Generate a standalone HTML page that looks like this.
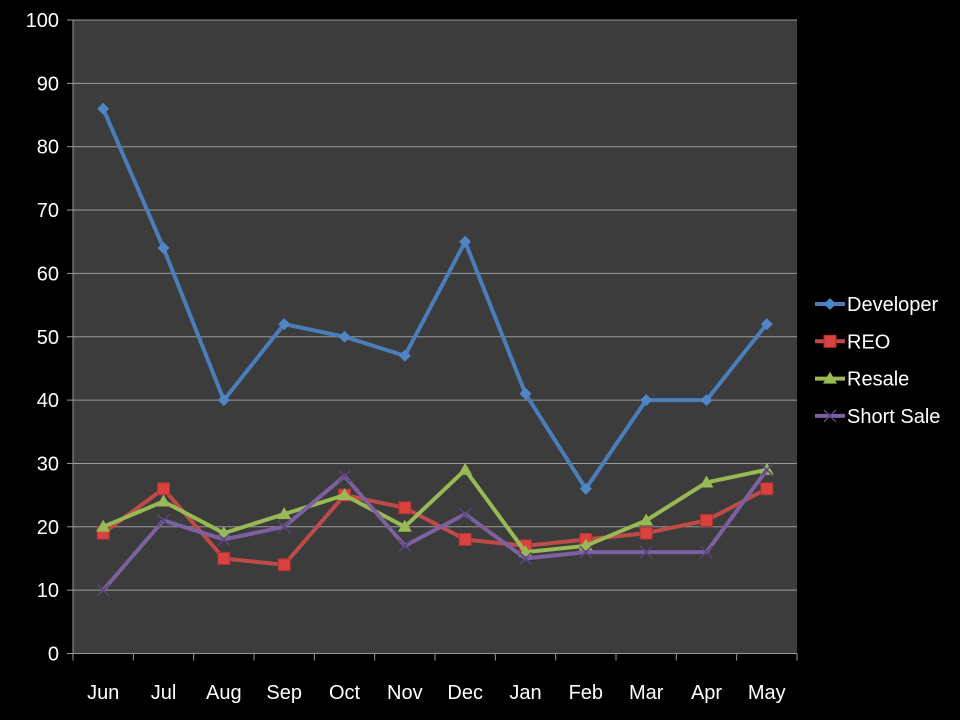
<!DOCTYPE html>
<html><head><meta charset="utf-8"><style>
html,body{margin:0;padding:0;background:#000;}
svg{display:block;font-family:"Liberation Sans",sans-serif;}
text{fill:#fff;font-size:20px;}
</style></head><body>
<svg id="c" width="960" height="720">
<rect x="73" y="20" width="724" height="634" fill="#3c3c3c"/>
<g id="grid"></g><g id="axes"></g>
<g text-anchor="end">
<text x="59" y="660.5">0</text>
<text x="59" y="597.2">10</text>
<text x="59" y="533.8">20</text>
<text x="59" y="470.5">30</text>
<text x="59" y="407.1">40</text>
<text x="59" y="343.8">50</text>
<text x="59" y="280.4">60</text>
<text x="59" y="217.1">70</text>
<text x="59" y="153.7">80</text>
<text x="59" y="90.4">90</text>
<text x="59" y="27">100</text>
</g>
<g text-anchor="middle">
<text x="103.2" y="699">Jun</text>
<text x="163.5" y="699">Jul</text>
<text x="223.8" y="699">Aug</text>
<text x="284.2" y="699">Sep</text>
<text x="344.5" y="699">Oct</text>
<text x="404.8" y="699">Nov</text>
<text x="465.2" y="699">Dec</text>
<text x="525.5" y="699">Jan</text>
<text x="585.8" y="699">Feb</text>
<text x="646.2" y="699">Mar</text>
<text x="706.5" y="699">Apr</text>
<text x="766.8" y="699">May</text>
</g>
<g>
<text x="847" y="311">Developer</text>
<text x="847" y="348.3">REO</text>
<text x="847" y="385.6">Resale</text>
<text x="847" y="422.9">Short Sale</text>
</g>
<g id="series"></g><g id="legend"></g>
</svg>
<script>
const categories=["Jun","Jul","Aug","Sep","Oct","Nov","Dec","Jan","Feb","Mar","Apr","May"];
const developer=[86,64,40,52,50,47,65,41,26,40,40,52];
const reo=[19,26,15,14,25,23,18,17,18,19,21,26];
const resale=[20,24,19,22,25,20,29,16,17,21,27,29];
const shortSale=[10,21,18,20,28,17,22,15,16,16,16,29];
const yTicks=[0,10,20,30,40,50,60,70,80,90,100];
const seriesNames=["Developer","REO","Resale","Short Sale"];

const NS="http://www.w3.org/2000/svg";
const L=73,R=797,T=20,B=653.5;
const bw=(R-L)/categories.length;
const x=i=>L+bw*(i+0.5);
const y=v=>B-(v/100)*(B-T);
function mk(tag,attrs,parent){const e=document.createElementNS(NS,tag);for(const k in attrs)e.setAttribute(k,attrs[k]);parent.appendChild(e);return e;}
const grid=document.getElementById('grid'),axes=document.getElementById('axes'),ser=document.getElementById('series'),leg=document.getElementById('legend');
yTicks.forEach(t=>{
  if(t>0){const g=mk('line',{x1:L,x2:R,y1:y(t),y2:y(t),stroke:'#9a9a9a','stroke-width':1},grid);
  
  }
  const tk=mk('line',{x1:L-6,x2:L,y1:y(t),y2:y(t),stroke:'#999'},axes);
  
  
});
const ya=mk('line',{x1:L,x2:L,y1:T,y2:B,stroke:'#999'},axes);


const xa=mk('line',{x1:L,x2:R,y1:B,y2:B,stroke:'#999'},axes);


for(let i=0;i<=categories.length;i++){
  const tk=mk('line',{x1:L+bw*i,x2:L+bw*i,y1:B,y2:B+7,stroke:'#999'},axes);
  
  
}
const colors=["#4a7ebb","#be4b48","#98b954","#7d60a0"];
const datas=[developer,reo,resale,shortSale];
function marker(k,cx,cy,g){
  let m;
  if(k===0)m=mk('polygon',{points:`${cx},${cy-6} ${cx+6},${cy} ${cx},${cy+6} ${cx-6},${cy}`,fill:'#4f86c6'},g);
  else if(k===1)m=mk('rect',{x:cx-6,y:cy-6,width:12,height:12,fill:'#d9423e',stroke:'#a33','stroke-width':1},g);
  else if(k===2)m=mk('polygon',{points:`${cx},${cy-7} ${cx+7},${cy+5} ${cx-7},${cy+5}`,fill:'#98b954'},g);
  else {m=mk('path',{d:`M${cx-6} ${cy-6}L${cx+6} ${cy+6}M${cx+6} ${cy-6}L${cx-6} ${cy+6}`,stroke:'#5a4580','stroke-width':1.5},g);}
  return m;
}
datas.forEach((d,k)=>{
  const g=mk('g',{},ser);
  
  
  const pl=mk('polyline',{points:d.map((v,i)=>x(i)+','+y(v)).join(' '),fill:'none',stroke:colors[k],'stroke-width':4,'stroke-linejoin':'round'},g);
  
  
  d.forEach((v,i)=>{const m=marker(k,x(i),y(v),g);
    
    });
  const lg=mk('g',{},leg);
  
  
  const ly=304+k*37.3;
  mk('line',{x1:815,x2:845,y1:ly,y2:ly,stroke:colors[k],'stroke-width':4},lg);
  marker(k,830,ly,lg);
});
</script>
</body></html>
